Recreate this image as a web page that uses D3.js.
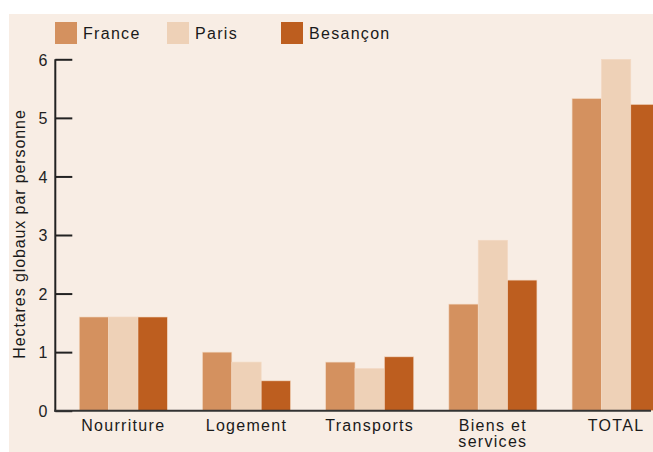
<!DOCTYPE html>
<html>
<head>
<meta charset="utf-8">
<script src="https://cdn.jsdelivr.net/npm/d3@7"></script>
<style>
  body { margin: 0; background: #ffffff; }
  svg { display: block; font-family: "Liberation Sans", Arial, sans-serif; }
</style>
</head>
<body>
<svg id="chart"></svg>
<script>
// Data
const categories = ["Nourriture", "Logement", "Transports", "Biens et services", "TOTAL"];
const seriesNames = ["France", "Paris", "Besançon"];
const france = [1.6, 1.0, 0.83, 1.82, 5.33];
const paris = [1.6, 0.83, 0.72, 2.91, 6.0];
const besancon = [1.6, 0.51, 0.92, 2.23, 5.23];
const yTicks = [0, 1, 2, 3, 4, 5, 6];

const seriesValues = [france, paris, besancon];
const colors = ["#d4915f", "#eed1b7", "#bd5e1f"];

const W = 653, H = 452;
const svg = d3.select("#chart").attr("width", W).attr("height", H);

// Background panel
svg.append("rect")
  .attr("x", 9).attr("y", 14)
  .attr("width", W - 9).attr("height", H - 14)
  .attr("fill", "#f8ede4");

const y = d3.scaleLinear().domain([0, 6]).range([410.7, 59.3]);

const x0 = d3.scaleBand()
  .domain(categories)
  .range([61.7, 61.7 + 5 * 123.2])
  .paddingInner(0.285)
  .paddingOuter(0.1425);

const x1 = d3.scaleBand()
  .domain(seriesNames)
  .range([0, x0.bandwidth()]);

// Bars
const groups = svg.append("g")
  .selectAll("g")
  .data(categories)
  .join("g")
  .attr("transform", d => `translate(${x0(d)},0)`);

groups.selectAll("rect")
  .data((c, ci) => seriesNames.map((s, si) => ({ s, si, v: seriesValues[si][ci] })))
  .join("rect")
  .attr("x", d => x1(d.s))
  .attr("y", d => y(d.v))
  .attr("width", x1.bandwidth())
  .attr("height", d => y(0) - y(d.v))
  .attr("fill", d => colors[d.si])
  .attr("stroke", "#f3d9c3")
  .attr("stroke-width", 0.6);

// Y axis
const axisX = 55.3;
const yAxis = svg.append("g")
  .attr("transform", `translate(${axisX},0)`)
  .call(d3.axisRight(y).tickValues(yTicks).tickSize(17).tickFormat(d3.format("d")));
yAxis.select(".domain").remove();
yAxis.selectAll("line").attr("stroke", "#222").attr("stroke-width", 2);
yAxis.selectAll("text")
  .attr("x", -8)
  .attr("dy", "0.36em")
  .attr("text-anchor", "end")
  .style("font-size", "16px")
  .attr("fill", "#222")
  .style("font-family", "'Liberation Sans', Arial, sans-serif");

svg.append("line")
  .attr("x1", axisX).attr("x2", axisX)
  .attr("y1", y(6)).attr("y2", y(0) + 1)
  .attr("stroke", "#222").attr("stroke-width", 2);

// X axis baseline
svg.append("line")
  .attr("x1", axisX - 1).attr("x2", 651)
  .attr("y1", y(0)).attr("y2", y(0))
  .attr("stroke", "#333").attr("stroke-width", 2);

// Category labels
const labels = svg.append("g").selectAll("text")
  .data(categories)
  .join("text")
  .attr("x", d => x0(d) + x0.bandwidth() / 2)
  .attr("y", 431)
  .attr("text-anchor", "middle")
  .style("font-size", "16px")
  .style("letter-spacing", "1.3px")
  .attr("fill", "#1a1a1a");
labels.each(function(d) {
  const t = d3.select(this);
  const parts = d === "Biens et services" ? ["Biens et", "services"] : [d];
  parts.forEach((p, i) => {
    t.append("tspan")
      .attr("x", x0(d) + x0.bandwidth() / 2)
      .attr("dy", i === 0 ? 0 : 16)
      .text(p);
  });
});

// Y axis title
svg.append("text")
  .attr("transform", `translate(25,234) rotate(-90)`)
  .attr("text-anchor", "middle")
  .style("font-size", "16px")
  .style("letter-spacing", "0.9px")
  .attr("fill", "#1a1a1a")
  .text("Hectares globaux par personne");

// Legend
const legendX = [55, 167, 281];
const legend = svg.append("g").selectAll("g")
  .data(seriesNames)
  .join("g")
  .attr("transform", (d, i) => `translate(${legendX[i]},22)`);
legend.append("rect")
  .attr("width", 22).attr("height", 22)
  .attr("fill", (d, i) => colors[i]);
legend.append("text")
  .attr("x", 28).attr("y", 17)
  .style("font-size", "16px")
  .style("letter-spacing", "1.3px")
  .attr("fill", "#1a1a1a")
  .text(d => d);
</script>
</body>
</html>
